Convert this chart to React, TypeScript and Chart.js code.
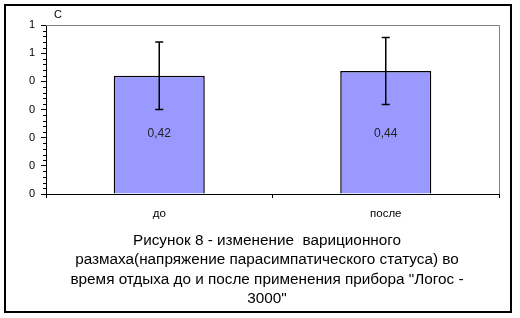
import React, { useEffect, useRef } from "react";
import { Chart, registerables } from "chart.js";

Chart.register(...registerables);

const categories = ["до", "после"];
const values = [0.42, 0.437];
const errors = [0.12, 0.119];
const yTicks = [0, 0.1, 0.2, 0.3, 0.4, 0.5, 0.6];
const labelLevel = 0.215;
const unitLabel = "С";
const titleLines = [
  "Рисунок 8 - изменение  вариционного",
  "размаха(напряжение парасимпатического статуса) во",
  "время отдыха до и после применения прибора \"Логос -",
  "3000\"",
];

const FONT = "'Liberation Sans', Arial, sans-serif";

const decorPlugin = {
  id: "decor",
  afterDatasetsDraw(chart: any) {
    const { ctx, chartArea, scales } = chart;
    const x = scales.x;
    const y = scales.y;
    ctx.save();
    // plot border (gray top & right)
    ctx.strokeStyle = "#808080";
    ctx.lineWidth = 1;
    ctx.beginPath();
    ctx.moveTo(chartArea.left, chartArea.top + 0.5);
    ctx.lineTo(chartArea.right + 0.5, chartArea.top + 0.5);
    ctx.lineTo(chartArea.right + 0.5, chartArea.bottom);
    ctx.stroke();
    // minor ticks on y axis
    ctx.strokeStyle = "#000";
    ctx.beginPath();
    for (let i = 0; i < yTicks.length - 1; i++) {
      const a = yTicks[i];
      const b = yTicks[i + 1];
      for (let k = 1; k < 5; k++) {
        const py = Math.round(y.getPixelForValue(a + ((b - a) * k) / 5)) + 0.5;
        ctx.moveTo(chartArea.left - 3, py);
        ctx.lineTo(chartArea.left, py);
      }
    }
    ctx.stroke();
    // error bars
    ctx.lineWidth = 1.5;
    ctx.beginPath();
    values.forEach((v, i) => {
      const px = x.getPixelForValue(i);
      const top = y.getPixelForValue(v + errors[i]);
      const bot = y.getPixelForValue(v - errors[i]);
      ctx.moveTo(px, top);
      ctx.lineTo(px, bot);
      ctx.moveTo(px - 4, top);
      ctx.lineTo(px + 4, top);
      ctx.moveTo(px - 4, bot);
      ctx.lineTo(px + 4, bot);
    });
    ctx.stroke();
    // data labels
    ctx.fillStyle = "#222";
    ctx.font = `12px ${FONT}`;
    ctx.textAlign = "center";
    ctx.textBaseline = "middle";
    values.forEach((v, i) => {
      const px = x.getPixelForValue(i);
      const py = y.getPixelForValue(labelLevel);
      ctx.fillText(v.toFixed(2).replace(".", ","), px, py);
    });
    // unit label
    ctx.font = `11px ${FONT}`;
    ctx.fillStyle = "#000";
    ctx.fillText(unitLabel, chartArea.left + 12, chartArea.top - 10);
    // title lines
    ctx.font = `15.3px ${FONT}`;
    ctx.textBaseline = "alphabetic";
    titleLines.forEach((t, i) => {
      ctx.fillText(t, 267, 244.5 + i * 19.6);
    });
    // outer frame
    ctx.lineWidth = 2;
    ctx.strokeStyle = "#000";
    ctx.strokeRect(5, 5, 506, 307);
    ctx.restore();
  },
};

export default function App() {
  const ref = useRef<HTMLCanvasElement>(null);
  useEffect(() => {
    if (!ref.current) return;
    const chart = new Chart(ref.current, {
      type: "bar",
      data: {
        labels: categories,
        datasets: [
          {
            data: values,
            backgroundColor: "#9999FF",
            borderColor: "#000",
            borderWidth: 1.5,
            barPercentage: 0.402,
            categoryPercentage: 1,
          },
        ],
      },
      options: {
        animation: false,
        responsive: false,
        maintainAspectRatio: false,
        events: [],
        layout: { padding: { left: 0, top: 25, right: 21, bottom: 0 } },
        plugins: {
          legend: { display: false },
          tooltip: { enabled: false },
          title: { display: false },
        },
        scales: {
          x: {
            grid: {
              offset: true,
              drawOnChartArea: false,
              tickLength: 4,
              color: "#000",
            },
            border: { color: "#000", width: 1 },
            ticks: {
              color: "#000",
              font: { family: FONT, size: 11.5 },
              padding: 9,
            },
            afterFit(scale: any) {
              scale.height = 124;
            },
          },
          y: {
            min: 0,
            max: 0.6,
            afterBuildTicks(scale: any) {
              scale.ticks = yTicks.map((v) => ({ value: v }));
            },
            grid: {
              drawOnChartArea: false,
              tickLength: 5,
              color: "#000",
            },
            border: { color: "#000", width: 1 },
            ticks: {
              color: "#000",
              font: { family: FONT, size: 11 },
              padding: 6,
              callback: (v: any) => String(Math.round(Number(v) + 1e-9)),
            },
            afterFit(scale: any) {
              scale.width = 46;
            },
          },
        },
      },
      plugins: [decorPlugin],
    });
    return () => chart.destroy();
  }, []);
  return (
    <div style={{ position: "absolute", left: 0, top: 0, width: 520, height: 318, background: "#fff" }}>
      <canvas ref={ref} width={520} height={318} style={{ display: "block" }} />
    </div>
  );
}
